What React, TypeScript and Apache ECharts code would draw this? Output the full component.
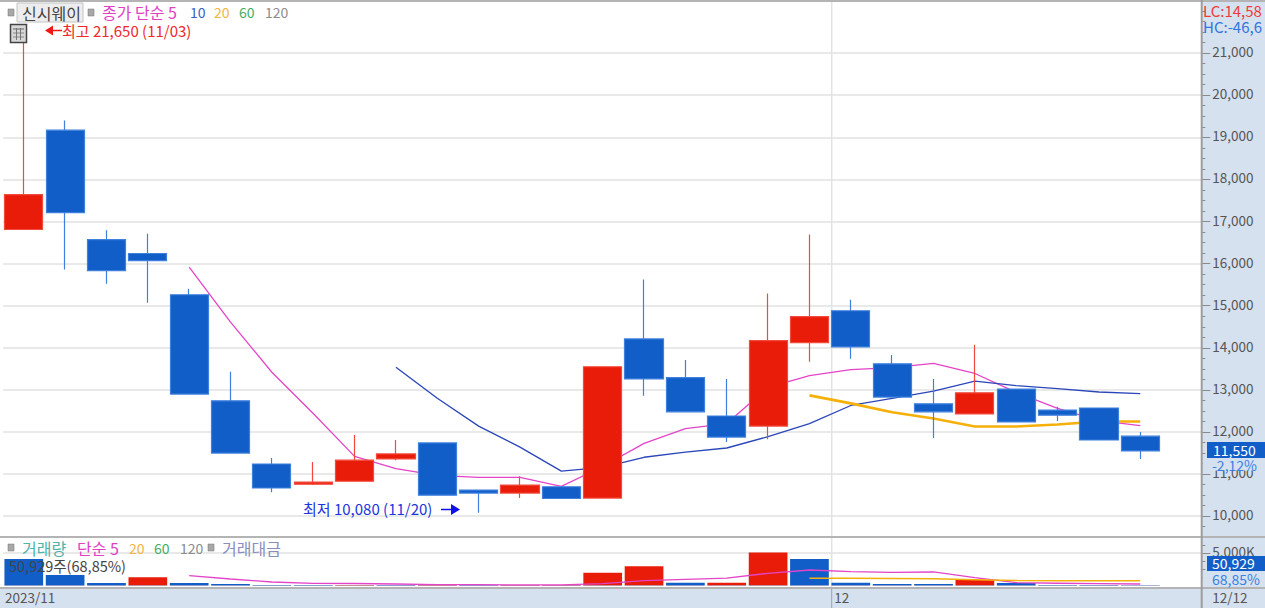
import React, { useEffect, useRef } from "react";
import * as echarts from "echarts";

const FONT = '"Noto Sans CJK KR", "Noto Sans", sans-serif';
const dates = ["11/03","11/06","11/07","11/08","11/09","11/10","11/13","11/14","11/15","11/16","11/17","11/20","11/21","11/22","11/23","11/24","11/27","11/28","11/29","11/30","12/01","12/04","12/05","12/06","12/07","12/08","12/11","12/12",""];
const opens = [16810,19170,16570,16240,15260,12740,11240,10760,10830,11360,11740,10620,10550,10700,10430,14210,13290,12380,12140,14120,14880,13620,12670,12430,13020,12520,12570,11900];
const closes = [17640,17210,15830,16070,12900,11500,10670,10810,11330,11480,10500,10550,10740,10420,13550,13260,12480,11880,14170,14740,14020,12830,12480,12930,12240,12400,11810,11550];
const lows = [16810,15860,15520,15070,12900,11500,10570,10740,10830,11330,10500,10080,10430,10420,10430,12860,12480,11760,11830,13670,13740,12830,11860,12430,12240,12260,11810,11360];
const highs = [21650,19400,16790,16710,15400,13430,11380,11290,11930,11810,11740,10620,10950,10700,13550,15620,13710,13260,15290,16690,15140,13830,13260,14070,13020,12600,12570,12000];
const ma5 = [null,null,null,null,15915,14610,13420,12440,11420,11130,10970,10920,10920,10710,11180,11730,12080,12200,13060,13340,13480,13530,13630,13390,12940,12560,12270,12150];
const ma10 = [null,null,null,null,null,null,null,null,null,13540,12800,12140,11640,11070,11160,11400,11520,11620,11890,12200,12630,12800,12970,13210,13100,13030,12950,12910];
const ma20 = [null,null,null,null,null,null,null,null,null,null,null,null,null,null,null,null,null,null,null,12870,12680,12470,12320,12130,12130,12180,12250,12250];
const volumes = [4077,1615,385,1260,385,230,70,65,70,60,70,60,65,70,1970,2954,420,440,5060,4077,430,230,230,850,385,77,60,51];
const amounts = [75,75,75,75,75,75,75,75,75,75,75,75,75,75,75,75,75,75,75,75,75,75,75,75,75,75,75,75];
const volMa5 = [null,null,null,null,1508,1000,540,340,310,230,150,120,100,100,280,740,950,1150,1880,2385,2120,2030,2080,1200,430,350,290,230];
const volMa20 = [null,null,null,null,null,null,null,null,null,null,null,null,null,null,null,null,null,null,null,1108,1100,1080,1030,900,760,750,740,735];
const priceTicks = [10000,11000,12000,13000,14000,15000,16000,17000,18000,19000,20000,21000];
const priceMinorTicks = [9500,9750,10000,10250,10500,10750,11000,11250,11500,11750,12000,12250,12500,12750,13000,13250,13500,13750,14000,14250,14500,14750,15000,15250,15500,15750,16000,16250,16500,16750,17000,17250,17500,17750,18000,18250,18500,18750,19000,19250,19500,19750,20000,20250,20500,20750,21000,21250,21500,21750,22000];
const volTicks = [5000];
const volMinorTicks = [1250,2500,3750,5000,6250];
const timeLabels = ["2023/11","","","","","","","","","","","","","","","","","","","","12","","","","","","","","","12/12"];

const UP = "#e81c09", DOWN = "#125ec9", UP_B = "#f2493c", DOWN_B = "#3f80dd";
const STRIP = "#d6e1ef", GRID = "#e2e2e2", SEP = "#b4b4b4";
const MAGENTA = "#e444c8", NAVY = "#2a46b8", ORANGE = "#f5b00a";

const T = (x: number, y: number, text: string, fill: string, fontSize = 14, extra: any = {}) => ({
  type: "text", x, y, z: 100,
  style: { text, fill, font: `${fontSize}px ${FONT}`, textVerticalAlign: "middle", textBaseline: "middle", ...extra },
});
const R = (x: number, y: number, width: number, height: number, fill: string, z = 100, extra: any = {}) => ({
  type: "rect", x, y, z, shape: { x: 0, y: 0, width, height }, style: { fill, ...extra },
});
const L = (x1: number, y1: number, x2: number, y2: number, stroke: string, lineWidth = 1, z = 100) => ({
  type: "line", z, shape: { x1, y1, x2, y2 }, style: { stroke, lineWidth },
});
const P = (points: number[][], fill: string) => ({ type: "polygon", z: 100, shape: { points }, style: { fill } });

const graphics: any[] = [
  R(1202, 0, 63, 608, STRIP, -10),
  R(0, 588, 1265, 20, STRIP, -10),
  L(0, 1, 1265, 1, SEP, 2, 90),
  L(0, 537, 1265, 537, SEP, 2, 90),
  L(0, 588, 1265, 588, SEP, 2, 90),
  L(831.7, 2, 831.7, 537, GRID, 1.5, -1),
  L(831.7, 538, 831.7, 587, GRID, 1.5, -1),
  L(831.7, 589, 831.7, 608, "#9aa0a8", 1, 90),
  L(1201.7, 0, 1201.7, 608, "#9c9c9c", 2, 90),
  // header
  R(8, 9, 6, 7, "#a8a8a8", 100, { stroke: "#777", lineWidth: 0.5 }),
  R(17, 3, 66, 19, "#ededed", 100, { stroke: "#c4c4c4", lineWidth: 1 }),
  T(22, 13, "신시웨이", "#444", 16),
  R(88, 9, 6, 7, "#a8a8a8", 100, { stroke: "#777", lineWidth: 0.5 }),
  T(102, 12, "종가 단순 5", "#e040c4", 16),
  T(190, 12, "10", "#3a5fc4"),
  T(214, 12, "20", "#f2b63c"),
  T(239, 12, "60", "#3fae62"),
  T(265, 12, "120", "#8c8c8c"),
  // table icon
  R(10.5, 24.5, 16, 18, "#d8d8d8", 100, { stroke: "#444", lineWidth: 1.5 }),
  L(13, 29, 24, 29, "#666", 1),
  L(13, 33, 24, 33, "#888", 1),
  L(13, 37, 24, 37, "#888", 1),
  L(16.5, 28, 16.5, 40, "#777", 1),
  L(20.5, 28, 20.5, 40, "#777", 1),
  // high label
  P([[45, 30.5], [53, 25.5], [53, 35.5]], "#f01818"),
  L(51, 30.5, 62, 30.5, "#f01818", 1.5),
  T(62, 30, "최고 21,650 (11/03)", "#f0282c", 15),
  // low label
  T(303, 508, "최저 10,080 (11/20)", "#1a36e0", 15),
  L(441, 509.5, 452, 509.5, "#1010e8", 1.5),
  P([[460, 509.5], [451, 504], [451, 515]], "#1010e8"),
  // right header
  T(1203, 10.5, "LC:14,58", "#f03a3a", 15),
  T(1203, 26.5, "HC:-46,6", "#2f74e0", 15),
  // price tag
  R(1207, 442, 58, 16, DOWN),
  T(1213, 449.5, "11,550", "#ffffff", 14),
  R(1203, 458, 62, 12.5, STRIP),
  T(1212, 464.5, "-2,12%", "#3a80e4", 14),
  // volume legend
  R(8, 544, 6, 7, "#a8a8a8", 100, { stroke: "#777", lineWidth: 0.5 }),
  T(22, 548, "거래량", "#4fb3a8", 16),
  T(77, 548, "단순 5", "#e040c4", 16),
  T(129, 548, "20", "#f2b63c"),
  T(154, 548, "60", "#3fae62"),
  T(180, 548, "120", "#8c8c8c"),
  R(208, 544, 6, 7, "#a8a8a8", 100, { stroke: "#777", lineWidth: 0.5 }),
  T(222, 548, "거래대금", "#8a8cc0", 16),
  T(9, 565, "50,929주(68,85%)", "#444", 14.5),
  // volume tag
  R(1207, 556, 58, 15, DOWN),
  T(1212, 563, "50,929", "#ffffff", 14),
  R(1203, 571, 62, 15, STRIP),
  T(1212, 578.5, "68,85%", "#3a80e4", 14),
];

const fmt = (v: number) => String(v).replace(/\B(?=(\d{3})+$)/g, ",");
const markLines = (vals: number[]) => ({
  silent: true, symbol: "none", label: { show: false }, animation: false, z: 0,
  lineStyle: { color: GRID, width: 1.5, type: "solid" },
  data: vals.map((v) => ({ yAxis: v })),
});
const line = (name: string, data: any[], color: string, width: number, x: number, y: number, z: number, extra: any = {}) => ({
  name, type: "line", data, xAxisIndex: x, yAxisIndex: y, symbol: "none", z, connectNulls: false,
  lineStyle: { color, width }, itemStyle: { color }, ...extra,
});

export default function App() {
  const ref = useRef<HTMLDivElement>(null);
  useEffect(() => {
    const chart = echarts.init(ref.current!, undefined, { renderer: "svg" });
    const GL = 3.1, GW = 1199.2;
    chart.setOption({
      animation: false,
      backgroundColor: "#ffffff",
      textStyle: { fontFamily: FONT },
      grid: [
        { left: GL, width: GW, top: 2.6, height: 534.65, containLabel: false, outerBoundsMode: "none" },
        { left: GL, width: GW, top: 538, height: 47.5, containLabel: false, outerBoundsMode: "none" },
      ],
      xAxis: [
        { type: "category", gridIndex: 0, data: dates, boundaryGap: true, axisLine: { show: false }, axisTick: { show: false }, axisLabel: { show: false }, splitLine: { show: false } },
        { type: "category", gridIndex: 1, data: dates, boundaryGap: true, axisLine: { show: false }, axisTick: { show: false }, axisLabel: { show: false }, splitLine: { show: false } },
        {
          type: "category", gridIndex: 1, position: "bottom", boundaryGap: false,
          data: timeLabels.map((t, i) => ({
            value: t + (t ? "" : " ".repeat(i)),
            textStyle: { align: "left", verticalAlign: "top", padding: [0, 0, 0, i === 0 ? 2 : i === 20 ? 4 : 10] },
          })),
          axisLine: { show: false }, axisTick: { show: false }, splitLine: { show: false },
          axisLabel: {
            show: true, interval: 0, align: "left", verticalAlign: "top", margin: 5,
            color: "#555", fontSize: 13.5, fontFamily: FONT,
            formatter: (v: string) => v.trim(),
          },
        },
      ],
      yAxis: [
        {
          type: "value", gridIndex: 0, position: "right", min: 9500, max: 22200, scale: true,
          axisLine: { show: false }, splitLine: { show: false },
          axisTick: { show: true, length: 8, lineStyle: { color: "#8a8a8a" }, customValues: priceTicks },
          axisLabel: { show: true, customValues: priceTicks, margin: 10, align: "left", verticalAlign: "bottom", lineHeight: 4, color: "#555", fontSize: 13.5, fontFamily: FONT, formatter: (v: number) => fmt(v) },
        },
        {
          type: "value", gridIndex: 0, position: "right", min: 9500, max: 22200, scale: true,
          axisLine: { show: false }, splitLine: { show: false }, axisLabel: { show: false },
          axisTick: { show: true, length: 3, lineStyle: { color: "#8a8a8a" }, customValues: priceMinorTicks },
        },
        {
          type: "value", gridIndex: 1, position: "right", min: 0, max: 7308,
          axisLine: { show: false }, splitLine: { show: false },
          axisTick: { show: true, length: 8, lineStyle: { color: "#8a8a8a" }, customValues: volTicks },
          axisLabel: { show: true, customValues: volTicks, margin: 10, align: "left", verticalAlign: "bottom", lineHeight: 4, color: "#555", fontSize: 13.5, fontFamily: FONT, formatter: (v: number) => fmt(v) + "K" },
        },
        {
          type: "value", gridIndex: 1, position: "right", min: 0, max: 7308,
          axisLine: { show: false }, splitLine: { show: false }, axisLabel: { show: false },
          axisTick: { show: true, length: 3, lineStyle: { color: "#8a8a8a" }, customValues: volMinorTicks },
        },
      ],
      series: [
        line("grid", [], GRID, 1, 0, 0, 0, { markLine: markLines(priceTicks) }),
        line("종가 단순 5", ma5, MAGENTA, 1.3, 0, 0, 1),
        line("종가 단순 10", ma10, NAVY, 1.3, 0, 0, 1),
        line("종가 단순 20", ma20, ORANGE, 2.6, 0, 0, 1),
        {
          name: "신시웨이", type: "candlestick", xAxisIndex: 0, yAxisIndex: 0, z: 2, barWidth: 38.7,
          data: opens.map((o, i) => [o, closes[i], lows[i], highs[i]]),
          itemStyle: { color: UP, color0: DOWN, borderColor: UP_B, borderColor0: DOWN_B, borderWidth: 1.2 },
        },
        line("vgrid", [], GRID, 1, 1, 2, 0, { markLine: markLines(volTicks) }),
        {
          name: "거래량", type: "bar", xAxisIndex: 1, yAxisIndex: 2, z: 2, barWidth: 38.7, barGap: "-100%",
          data: volumes.map((v, i) => ({ value: v, itemStyle: { color: i > 0 && v > volumes[i - 1] ? UP : DOWN } })),
        },
        {
          name: "거래대금", type: "bar", xAxisIndex: 1, yAxisIndex: 2, z: 3, barWidth: 38.7, barGap: "-100%",
          data: amounts, itemStyle: { color: "#8f8fb4" },
        },
        line("거래량 단순 5", volMa5, MAGENTA, 1.3, 1, 2, 4),
        line("거래량 단순 20", volMa20, ORANGE, 1.5, 1, 2, 4),
      ],
      graphic: graphics,
    });
    return () => chart.dispose();
  }, []);
  return <div ref={ref} style={{ position: "fixed", left: 0, top: 0, width: 1265, height: 608 }} />;
}
